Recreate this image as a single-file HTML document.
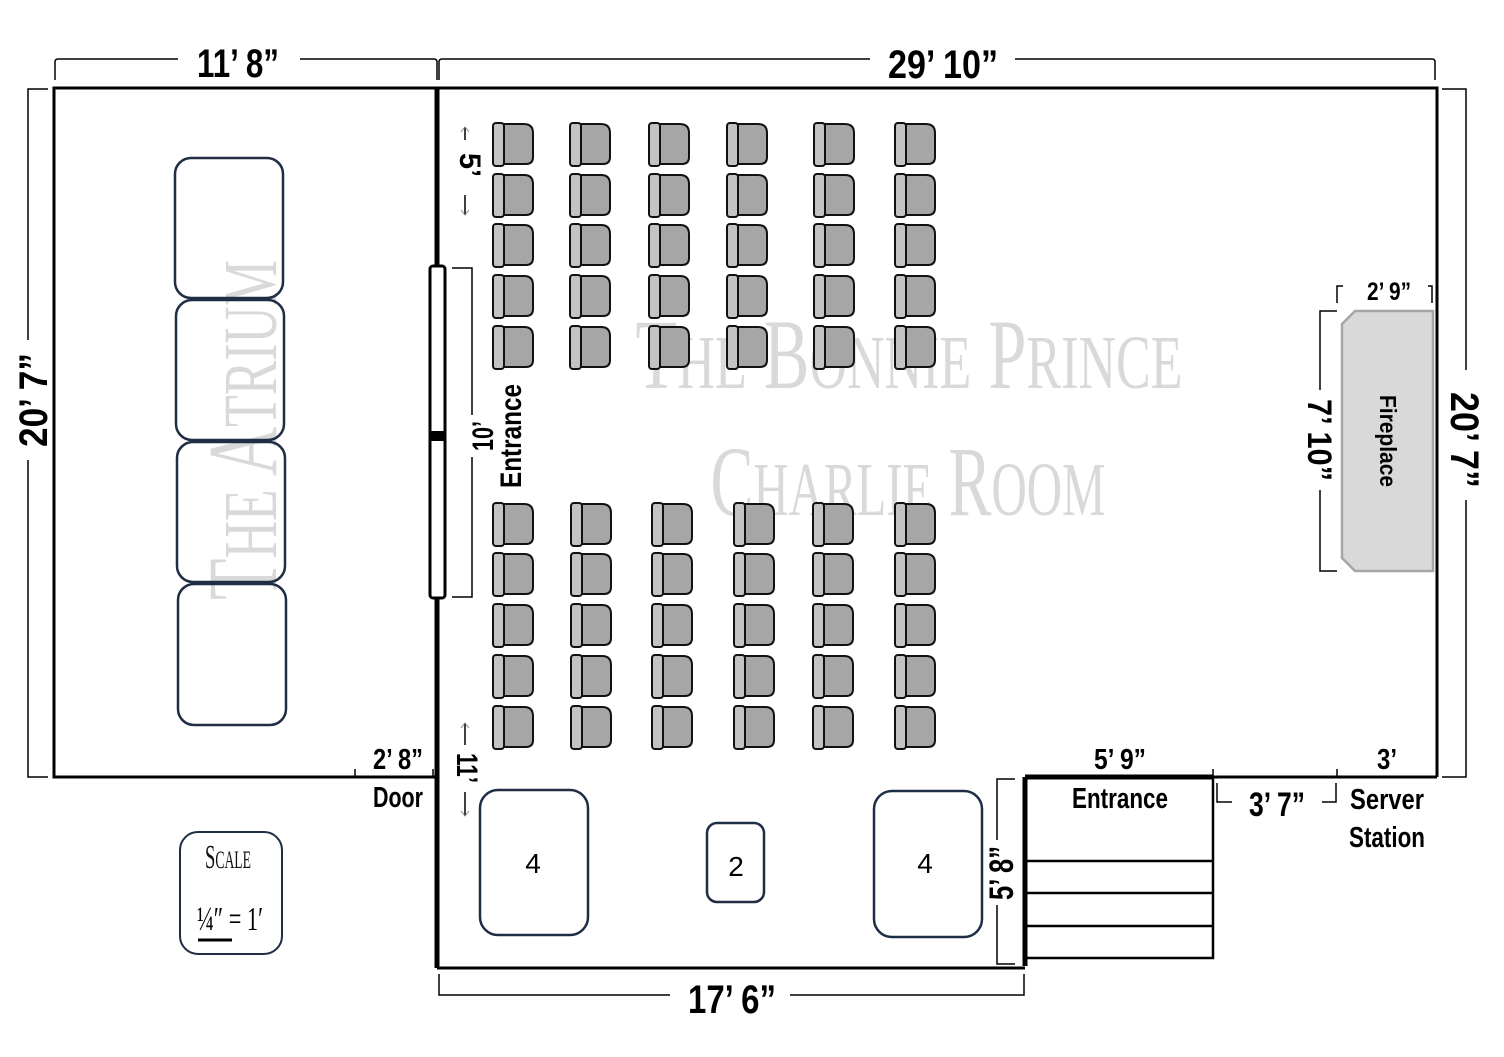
<!DOCTYPE html>
<html><head><meta charset="utf-8"><style>
html,body{margin:0;padding:0;background:#fff;}
svg{display:block;}
.d{font-family:"Liberation Sans",sans-serif;font-weight:bold;fill:#000;}
.w{font-family:"Liberation Serif",serif;fill:#d9d9d9;}
</style></head><body>
<svg width="1504" height="1057" viewBox="0 0 1504 1057" xmlns="http://www.w3.org/2000/svg">
<defs>
<g id="ch">
<path d="M10 1 H31 Q40 1 40 10 V34 Q40 41 33 41 H10 Z" fill="#a6a6a6" stroke="#111" stroke-width="2"/>
<rect x="0" y="0" width="11" height="43" rx="3" fill="#c3c3c3" stroke="#111" stroke-width="2"/>
</g>
</defs>
<!-- watermarks -->
<text class="w" x="909" y="388" font-size="100" text-anchor="middle" textLength="547" lengthAdjust="spacingAndGlyphs">T<tspan font-size="76">HE</tspan> B<tspan font-size="76">ONNIE</tspan> P<tspan font-size="76">RINCE</tspan></text>
<text class="w" x="908" y="515" font-size="100" text-anchor="middle" textLength="395" lengthAdjust="spacingAndGlyphs">C<tspan font-size="76">HARLIE</tspan> R<tspan font-size="76">OOM</tspan></text>
<text class="w" transform="translate(276,430) rotate(-90)" x="0" y="0" font-size="100" text-anchor="middle" textLength="340" lengthAdjust="spacingAndGlyphs">T<tspan font-size="76">HE</tspan> A<tspan font-size="76">TRIUM</tspan></text>

<!-- walls -->
<g fill="none" stroke="#000">
<rect x="54" y="88" width="383" height="689" stroke-width="3"/>
<path d="M437 88 H1437 V777" stroke-width="3"/>
<path d="M1213 777 H1437" stroke-width="3"/>
<path d="M1025 777 H1213" stroke-width="5"/>
<path d="M437 88 V968" stroke-width="5"/>
<path d="M437 968 H1025" stroke-width="3"/>
<path d="M1025 777 V966" stroke-width="5"/>
<path d="M1213 777 V958 H1025 M1025 861 H1213 M1025 893 H1213 M1025 926 H1213" stroke-width="2.5"/>
</g>
<!-- door in middle wall -->
<rect x="430" y="266" width="15" height="332" rx="3" fill="#fff" stroke="#000" stroke-width="3"/>
<rect x="430" y="431" width="15" height="10" fill="#000"/>
<path d="M452 268 H472 V278 M452 597 H472 V587" fill="none" stroke="#000" stroke-width="1.5"/>
<path d="M472 278 V415 M472 457 V587" fill="none" stroke="#000" stroke-width="1.5"/>
<!-- atrium tables -->
<g fill="none" stroke="#1f2d45" stroke-width="2.5">
<rect x="175" y="158" width="108" height="140" rx="16"/>
<rect x="176" y="300" width="108" height="140" rx="16"/>
<rect x="177" y="442" width="108" height="140" rx="16"/>
<rect x="178" y="584" width="108" height="141" rx="16"/>
<rect x="480" y="790" width="108" height="145" rx="18"/>
<rect x="707" y="823" width="57" height="79" rx="10"/>
<rect x="874" y="791" width="108" height="146" rx="18"/>
<rect x="180" y="832" width="102" height="122" rx="18" stroke-width="2"/>
</g>
<g font-family="Liberation Sans,sans-serif" font-size="28" text-anchor="middle">
<text x="533" y="873">4</text><text x="736" y="876">2</text><text x="925" y="873">4</text>
</g>
<!-- scale -->
<text x="228" y="868" font-family="Liberation Serif,serif" fill="#111" font-size="34" text-anchor="middle" textLength="46" lengthAdjust="spacingAndGlyphs">S<tspan font-size="25">CALE</tspan></text>
<text x="230" y="930" font-family="Liberation Serif,serif" font-size="34" text-anchor="middle" textLength="66" lengthAdjust="spacingAndGlyphs">¼″ = 1′</text>
<path d="M198 940 H232" stroke="#000" stroke-width="3"/>
<!-- chairs -->
<g>
<use href="#ch" x="493" y="123"/><use href="#ch" x="493" y="174"/><use href="#ch" x="493" y="224"/><use href="#ch" x="493" y="275"/><use href="#ch" x="493" y="326"/>
<use href="#ch" x="570" y="123"/><use href="#ch" x="570" y="174"/><use href="#ch" x="570" y="224"/><use href="#ch" x="570" y="275"/><use href="#ch" x="570" y="326"/>
<use href="#ch" x="649" y="123"/><use href="#ch" x="649" y="174"/><use href="#ch" x="649" y="224"/><use href="#ch" x="649" y="275"/><use href="#ch" x="649" y="326"/>
<use href="#ch" x="727" y="123"/><use href="#ch" x="727" y="174"/><use href="#ch" x="727" y="224"/><use href="#ch" x="727" y="275"/><use href="#ch" x="727" y="326"/>
<use href="#ch" x="814" y="123"/><use href="#ch" x="814" y="174"/><use href="#ch" x="814" y="224"/><use href="#ch" x="814" y="275"/><use href="#ch" x="814" y="326"/>
<use href="#ch" x="895" y="123"/><use href="#ch" x="895" y="174"/><use href="#ch" x="895" y="224"/><use href="#ch" x="895" y="275"/><use href="#ch" x="895" y="326"/>
<use href="#ch" x="493" y="503"/><use href="#ch" x="493" y="553"/><use href="#ch" x="493" y="604"/><use href="#ch" x="493" y="655"/><use href="#ch" x="493" y="706"/>
<use href="#ch" x="571" y="503"/><use href="#ch" x="571" y="553"/><use href="#ch" x="571" y="604"/><use href="#ch" x="571" y="655"/><use href="#ch" x="571" y="706"/>
<use href="#ch" x="652" y="503"/><use href="#ch" x="652" y="553"/><use href="#ch" x="652" y="604"/><use href="#ch" x="652" y="655"/><use href="#ch" x="652" y="706"/>
<use href="#ch" x="734" y="503"/><use href="#ch" x="734" y="553"/><use href="#ch" x="734" y="604"/><use href="#ch" x="734" y="655"/><use href="#ch" x="734" y="706"/>
<use href="#ch" x="813" y="503"/><use href="#ch" x="813" y="553"/><use href="#ch" x="813" y="604"/><use href="#ch" x="813" y="655"/><use href="#ch" x="813" y="706"/>
<use href="#ch" x="895" y="503"/><use href="#ch" x="895" y="553"/><use href="#ch" x="895" y="604"/><use href="#ch" x="895" y="655"/><use href="#ch" x="895" y="706"/>
</g>
<!-- fireplace -->
<path d="M1355 311 H1433 V571 H1355 L1342 558 V324 Z" fill="#d9d9d9" stroke="#a6a6a6" stroke-width="2.5"/>
<text class="d" transform="translate(1380,441) rotate(90)" text-anchor="middle" font-size="23" textLength="92" lengthAdjust="spacingAndGlyphs">Fireplace</text>
<!-- dimension lines -->
<g fill="none" stroke="#000" stroke-width="1.5">
<path d="M55 80 V62 Q55 59 58 59 H178 M300 59 H434 Q437 59 437 62 V80"/>
<path d="M439 80 V62 Q439 59 442 59 H870 M1015 59 H1432 Q1435 59 1435 62 V80"/>
<path d="M48 89 H28 V340 M28 460 V777 H48"/>
<path d="M1442 89 H1466 V370 M1466 500 V777 H1442"/>
<path d="M1337 303 V286 H1343 M1428 286 H1432 V303"/>
<path d="M1337 311 H1320 V390 M1320 490 V571 H1337"/>
<path d="M439 974 V995 H670 M790 995 H1024 V974"/>
<path d="M1015 779 H997 V840 M997 905 V964 H1015"/>
<path d="M1217 783 V802 H1232 M1322 802 H1336 V783"/>
<path d="M1337 777 V769 M1213 777 V769"/>
<path d="M355 777 V769 M433 777 V769"/>
<path d="M465 127 V140 M465 195 V215"/>
<path d="M465 723 V745 M465 792 V816"/>
</g>
<g stroke="#888" stroke-width="1" fill="none">
<path d="M461 132 L465 127 L469 132 M461 210 L465 215 L469 210"/>
<path d="M461 728 L465 723 L469 728 M461 811 L465 816 L469 811"/>
</g>
<!-- dimension texts -->
<g class="d">
<text x="238" y="77" font-size="40" text-anchor="middle" textLength="82" lengthAdjust="spacingAndGlyphs">11’ 8”</text>
<text x="943" y="78" font-size="40" text-anchor="middle" textLength="110" lengthAdjust="spacingAndGlyphs">29’ 10”</text>
<text x="732" y="1013" font-size="40" text-anchor="middle" textLength="88" lengthAdjust="spacingAndGlyphs">17’ 6”</text>
<text transform="translate(47,400) rotate(-90)" font-size="40" text-anchor="middle" textLength="94" lengthAdjust="spacingAndGlyphs">20’ 7”</text>
<text transform="translate(1451,440) rotate(90)" font-size="40" text-anchor="middle" textLength="96" lengthAdjust="spacingAndGlyphs">20’ 7”</text>
<text transform="translate(1308,440) rotate(90)" font-size="34" text-anchor="middle" textLength="82" lengthAdjust="spacingAndGlyphs">7’ 10”</text>
<text x="1389" y="300" font-size="25" text-anchor="middle" textLength="44" lengthAdjust="spacingAndGlyphs">2’ 9”</text>
<text x="398" y="769" font-size="29" text-anchor="middle" textLength="50" lengthAdjust="spacingAndGlyphs">2’ 8”</text>
<text x="398" y="807" font-size="29" text-anchor="middle" textLength="50" lengthAdjust="spacingAndGlyphs">Door</text>
<text x="1120" y="769" font-size="29" text-anchor="middle" textLength="52" lengthAdjust="spacingAndGlyphs">5’ 9”</text>
<text x="1120" y="808" font-size="29" text-anchor="middle" textLength="96" lengthAdjust="spacingAndGlyphs">Entrance</text>
<text x="1277" y="816" font-size="34" text-anchor="middle" textLength="56" lengthAdjust="spacingAndGlyphs">3’ 7”</text>
<text x="1387" y="769" font-size="29" text-anchor="middle" textLength="20" lengthAdjust="spacingAndGlyphs">3’</text>
<text x="1387" y="809" font-size="29" text-anchor="middle" textLength="74" lengthAdjust="spacingAndGlyphs">Server</text>
<text x="1387" y="847" font-size="29" text-anchor="middle" textLength="76" lengthAdjust="spacingAndGlyphs">Station</text>
<text transform="translate(1013,873) rotate(-90)" font-size="34" text-anchor="middle" textLength="54" lengthAdjust="spacingAndGlyphs">5’ 8”</text>
<text transform="translate(460,165) rotate(90)" font-size="30" text-anchor="middle" textLength="24" lengthAdjust="spacingAndGlyphs">5’</text>
<text transform="translate(457,768) rotate(90)" font-size="30" text-anchor="middle" textLength="30" lengthAdjust="spacingAndGlyphs">11’</text>
<text transform="translate(493,436) rotate(-90)" font-size="30" text-anchor="middle" textLength="30" lengthAdjust="spacingAndGlyphs">10’</text>
<text transform="translate(521,436) rotate(-90)" font-size="30" text-anchor="middle" textLength="104" lengthAdjust="spacingAndGlyphs">Entrance</text>
</g>
</svg>
</body></html>
